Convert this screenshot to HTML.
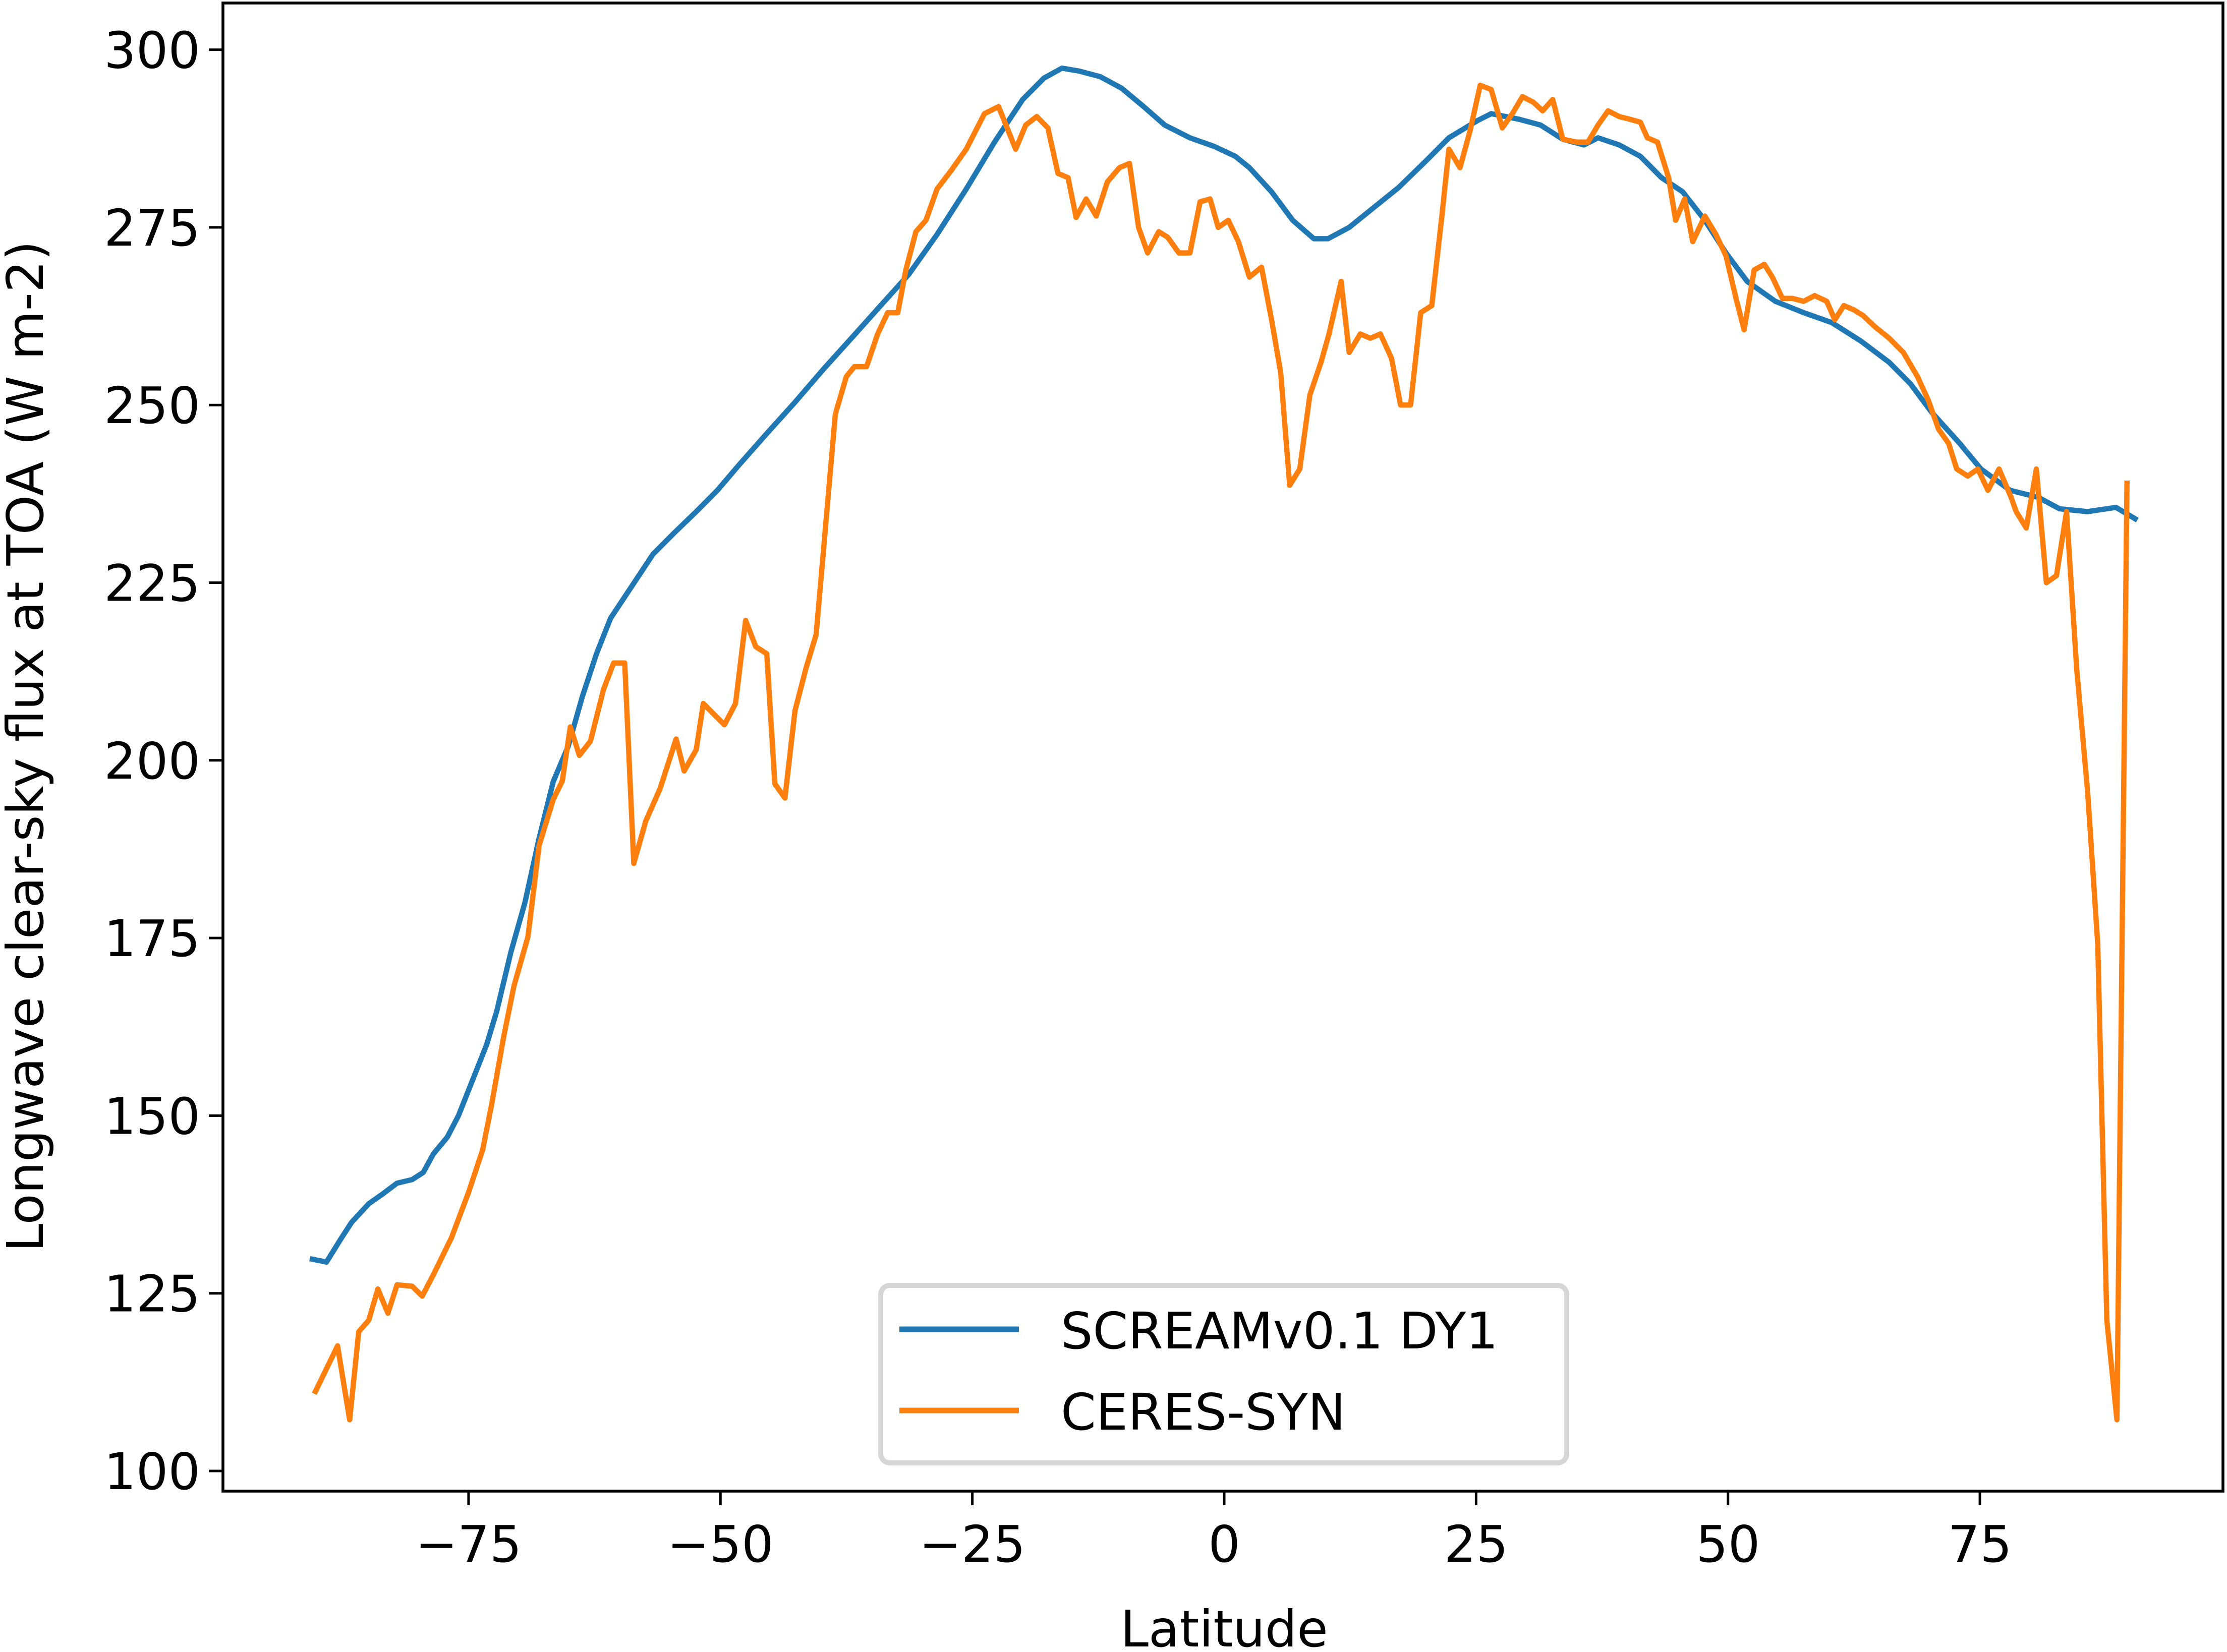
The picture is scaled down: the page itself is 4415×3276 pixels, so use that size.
<!DOCTYPE html>
<html><head><meta charset="utf-8"><style>
html,body{margin:0;padding:0;background:#fff;}
svg{display:block;}
text{font-family:"DejaVu Sans","Liberation Sans",sans-serif;fill:#000;}
</style></head><body>
<svg id="chart" width="4415" height="3276" viewBox="0 0 4415 3276" xmlns="http://www.w3.org/2000/svg">
<rect width="4415" height="3276" fill="#fff"/>
<g id="plot"></g>
</svg>
<script>
const xTicks=[-75,-50,-25,0,25,50,75];
const yTicks=[100,125,150,175,200,225,250,275,300];
const screamLat=[-90.5,-89.1,-87.7,-86.6,-84.9,-83.5,-82.1,-80.6,-79.5,-78.5,-77.1,-76,-74.6,-73.2,-72.2,-70.8,-69.4,-68,-66.6,-65.1,-63.7,-62.3,-60.9,-59.5,-58.1,-56.7,-54.6,-52.4,-50.3,-48.2,-45.4,-42.6,-39.8,-37,-34.1,-31.3,-28.5,-25.6,-22.8,-20,-17.9,-16.1,-14.4,-12.3,-10.2,-8,-5.9,-3.4,-1,1.1,2.5,4.7,6.8,8.9,10.3,12.4,14.5,17.3,20.2,22.3,25.1,26.5,29.3,31.4,33.6,35.7,37.1,39.2,41.3,43.4,45.5,47.7,49.8,51.9,54.7,57.5,60.3,63.2,66,68.1,70.2,73,75.1,78,80.8,82.9,85.7,88.5,90.4];
const screamVal=[129.8,129.4,132.6,135,137.6,139,140.5,141,142,144.6,147,150,155,160,164.7,173,180,189,197,202,209,215,220,223,226,229,232,235,238,241.5,246,250.4,255,259.4,264,268.4,274,280.4,287,293,296,297.4,297,296.2,294.6,292,289.4,287.6,286.4,285,283.4,280,276,273.4,273.4,275,277.4,280.6,284.6,287.6,290,291,290.2,289.4,287.4,286.6,287.6,286.6,285,282,280,276,271.4,267.4,264.6,263,261.6,259,256,253,249,244.6,241,238,237,235.4,235,235.6,234];
const ceresLat=[-90.2,-88,-86.8,-85.9,-84.9,-84,-83,-82.1,-80.6,-79.6,-78.5,-76.7,-75,-73.6,-72.7,-71.5,-70.5,-69.1,-68,-66.6,-65.7,-64.9,-64,-62.9,-61.6,-60.6,-59.5,-58.6,-57.4,-56,-54.4,-53.6,-52.4,-51.7,-49.6,-48.5,-47.5,-46.5,-45.4,-44.6,-43.6,-42.6,-41.5,-40.5,-38.6,-37.5,-36.7,-35.5,-34.4,-33.4,-32.4,-31.6,-30.6,-29.6,-28.5,-27.1,-25.6,-23.8,-22.4,-20.7,-19.7,-18.6,-17.5,-16.5,-15.5,-14.7,-13.7,-12.7,-11.6,-10.4,-9.4,-8.5,-7.6,-6.5,-5.6,-4.5,-3.4,-2.4,-1.4,-0.6,0.4,1.4,2.5,3.7,4.7,5.6,6.5,7.5,8.5,9.6,10.4,11.6,12.4,13.5,14.5,15.5,16.6,17.5,18.5,19.5,20.6,21.6,22.3,23.4,24.4,25.4,26.5,27.6,28.6,29.6,30.7,31.6,32.6,33.6,35,36.1,37.1,38.1,39.2,40.3,41.3,42,43,44.1,44.8,45.7,46.5,47.7,48.8,49.8,50.8,51.6,52.6,53.6,54.4,55.4,56.4,57.5,58.6,59.8,60.6,61.5,62.5,63.4,64.6,66,67.4,68.8,69.9,70.9,71.9,72.7,73.8,74.8,75.8,76.9,78.1,78.6,79.6,80.6,81.6,82.6,83.6,84.6,85.7,86.7,87.6,88.6,89.6];
const ceresVal=[111.2,117.6,107.2,119.6,121.2,125.6,122.2,126.2,126,124.6,127.6,132.8,139.2,145.2,151.6,161.2,168.2,175.2,188,194.5,197.1,204.7,200.7,202.7,210,213.7,213.7,185.5,191.5,196,203,198.5,201.5,208,205,208,219.7,216,215,196.7,194.7,207,213,217.7,248.7,254,255.4,255.4,260,263,263,269,274.4,276,280.4,283,286,291,292,286,289.4,290.6,289,282.6,282,276.4,279,276.6,281.4,283.4,284,275,271.4,274.4,273.6,271.4,271.4,278.6,279,275,276,273,268,269.4,262,254.6,238.7,241,251.4,256,260,267.4,257.4,260,259.4,260,256.6,250,250,263,264,276.6,286,283.4,288.6,295,294.4,289,291,293.4,292.6,291.4,293,287.4,287,287,289.4,291.4,290.6,290.2,289.8,287.6,287,282,276,279,273,276.6,274,271,265,260.6,269,269.8,268,265,265,264.6,265.4,264.6,262,264,263.4,262.6,261,259.4,257.4,254,250.6,246.6,244.6,241,240,241,238,241,237,235,232.7,241,225,226,235,213,195.5,174.1,121.2,107.2,239];

const L=442,R=4407,T=6,B=2957;
const sx=v=>2427+v*(532*2.816/75);
const sy=v=>98.6+(300-v)*(2818.4/200);
const NS="http://www.w3.org/2000/svg";
const g=document.getElementById('plot');
function mk(t,a){const e=document.createElementNS(NS,t);for(const k in a)e.setAttribute(k,a[k]);g.appendChild(e);return e;}

xTicks.forEach(v=>{
  const l=mk('line',{x1:sx(v),x2:sx(v),y1:B,y2:B+28,stroke:'#000','stroke-width':5});
  
  
  const t=mk('text',{x:sx(v),y:B+140,'font-size':100,'text-anchor':'middle'});
  
  
  t.textContent=(v<0?'\u2212'+(-v):String(v));
});
yTicks.forEach(v=>{
  const l=mk('line',{x1:L-28,x2:L,y1:sy(v),y2:sy(v),stroke:'#000','stroke-width':5});
  
  
  const t=mk('text',{x:L-45,y:sy(v)+36,'font-size':100,'text-anchor':'end'});
  
  
  t.textContent=String(v);
});

function series(lat,val,color,name){
  const p=mk('polyline',{points:lat.map((x,i)=>sx(x).toFixed(1)+','+sy(val[i]).toFixed(1)).join(' '),fill:'none',stroke:color,'stroke-width':10.5,'stroke-linejoin':'round','stroke-linecap':'square'});
  
  
}
series(screamLat,screamVal,'#1f77b4','scream-line');
series(ceresLat,ceresVal,'#ff7f0e','ceres-line');

const fr=mk('rect',{x:L,y:T,width:R-L,height:B-T,fill:'none',stroke:'#000','stroke-width':5.6});



const xl=mk('text',{x:sx(0),y:3265,'font-size':100,'text-anchor':'middle'});


xl.textContent='Latitude';
const yl=mk('text',{x:0,y:0,'font-size':100,'text-anchor':'middle',transform:'translate(85,1480) rotate(-90)'});


yl.textContent='Longwave clear-sky flux at TOA (W m-2)';

const lg=mk('rect',{x:1746,y:2549,width:1360,height:352,rx:18,fill:'#fff',stroke:'#d6d6d6','stroke-width':10});


const items=[['SCREAMv0.1 DY1','#1f77b4',2636],['CERES-SYN','#ff7f0e',2797]];
items.forEach(it=>{
  const l=mk('line',{x1:1783,x2:2020,y1:it[2],y2:it[2],stroke:it[1],'stroke-width':11});
  
  
  const t=mk('text',{x:2103,y:it[2]+38,'font-size':100});
  
  
  t.textContent=it[0];
});
</script>
</body></html>
